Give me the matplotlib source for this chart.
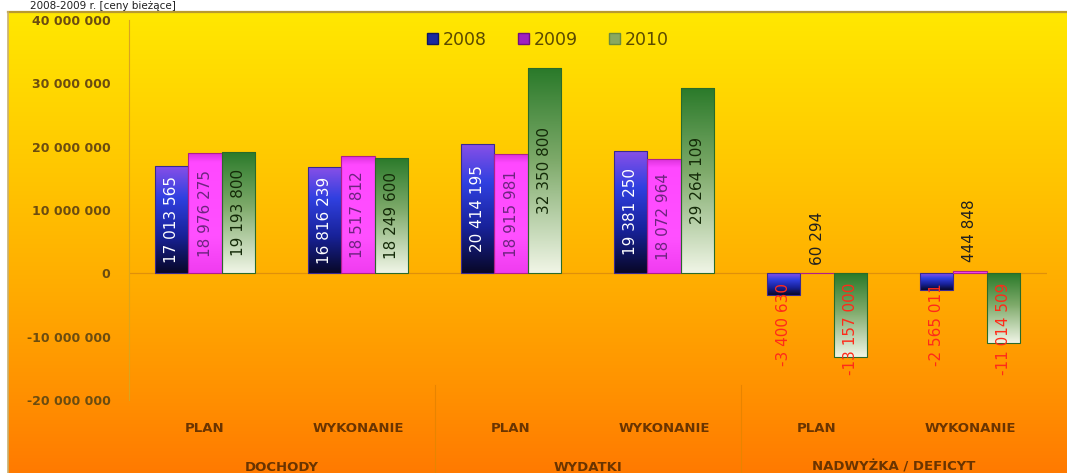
import numpy as np
import matplotlib
matplotlib.use("Agg")
import matplotlib.pyplot as plt
from matplotlib.colors import LinearSegmentedColormap
from matplotlib.patches import Patch
import matplotlib.transforms as mtransforms

# ---------------- data ----------------
categories = ["PLAN", "WYKONANIE", "PLAN", "WYKONANIE", "PLAN", "WYKONANIE"]
groups = ["DOCHODY", "WYDATKI", "NADWYŻKA / DEFICYT"]
series_names = ["2008", "2009", "2010"]
v2008 = [17013565, 16816239, 20414195, 19381250, -3400630, -2565011]
v2009 = [18976275, 18517812, 18915981, 18072964, 60294, 444848]
v2010 = [19193800, 18249600, 32350800, 29264109, -13157000, -11014509]
y_ticks = [-20000000, -10000000, 0, 10000000, 20000000, 30000000, 40000000]
title_text = "2008-2009 r. [ceny bieżące]"

# ---------------- styles ----------------
W, H = 1067, 473
fig = plt.figure(figsize=(W / 100, H / 100), dpi=100)
fig.patch.set_facecolor("white")

# background gradient panel
bg = fig.add_axes([8 / W, 0, 1 - 8 / W, 1 - 12 / H])
bg_cmap = LinearSegmentedColormap.from_list(
    "bg", [(0, "#FFE800"), (0.35, "#FFC600"), (0.6, "#FFAC00"), (0.85, "#FF8E00"), (1, "#FF7A00")])
grad = np.linspace(0, 1, 256).reshape(-1, 1)
bg.imshow(grad, aspect="auto", cmap=bg_cmap, extent=[0, 1, 1, 0], origin="upper")
bg.set_xlim(0, 1)
bg.set_ylim(1, 0)
bg.axis("off")
fig.add_artist(plt.Line2D([8 / W, 1], [1 - 12 / H, 1 - 12 / H], transform=fig.transFigure,
                          color="#B89A30", lw=1.6))
fig.add_artist(plt.Line2D([8 / W, 8 / W], [0, 1 - 12 / H], transform=fig.transFigure,
                          color="#C8B070", lw=1.2))

# title in the thin white strip at the top
fig.text(30 / W, 1 - 1 / H, title_text, fontsize=7.5, color="#202020", va="top", ha="left")

ax_left, ax_right = 128.5 / W, 1046.5 / W
ax_bottom, ax_top = 1 - 400 / H, 1 - 20 / H
ax = fig.add_axes([ax_left, ax_bottom, ax_right - ax_left, ax_top - ax_bottom])
ax.patch.set_alpha(0)

x = np.arange(len(categories))
bw = 0.22
offsets = [-bw, 0, bw]
all_vals = [v2008, v2009, v2010]

grad_stops = [
    [(0, "#8A50E8"), (0.3, "#3040E0"), (0.65, "#18229A"), (1, "#080828")],
    [(0, "#D830D8"), (0.08, "#FF48FF"), (0.7, "#FF50FF"), (1, "#F03CF0")],
    [(0, "#2A7A2A"), (0.45, "#7EAA6A"), (1, "#F0F5E6")],
]
edge_cols = ["#3A2A90", "#B0208A", "#2A6A2A"]
label_cols = ["white", "#6E2480", "#142A08"]

for si, vals in enumerate(all_vals):
    cmap = LinearSegmentedColormap.from_list("s%d" % si, grad_stops[si])
    bars = ax.bar(x + offsets[si], vals, width=bw, facecolor="none",
                  edgecolor=edge_cols[si], linewidth=0.8, zorder=3)
    g = np.linspace(0, 1, 128).reshape(-1, 1)
    for b, v in zip(bars, vals):
        x0 = b.get_x()
        x1 = x0 + b.get_width()
        ylo, yhi = min(0, v), max(0, v)
        im = ax.imshow(g, cmap=cmap, aspect="auto", extent=[x0, x1, ylo, yhi],
                       origin="upper", zorder=2)
        im.set_clip_path(b)
        xc = x0 + b.get_width() / 2
        txt = f"{v:,}".replace(",", " ")
        if v >= 1000000:
            ax.text(xc, v / 2, txt, rotation=90, ha="center", va="center",
                    fontsize=11, color=label_cols[si], zorder=5)
        elif v >= 0:
            ax.annotate(txt, (xc, v), xytext=(0, 6), textcoords="offset points",
                        rotation=90, ha="center", va="bottom", fontsize=11,
                        color="#202020", zorder=5)
        else:
            ax.annotate(txt, (xc, 0), xytext=(0, -7), textcoords="offset points",
                        rotation=90, ha="center", va="top", fontsize=11,
                        color="#FF2A1A", zorder=5)

ax.set_xlim(-0.5, len(categories) - 0.5)
ax.set_ylim(y_ticks[0], y_ticks[-1])
ax.set_yticks(y_ticks)
ax.set_yticklabels([f"{t:,}".replace(",", " ") for t in y_ticks],
                   fontsize=9, fontweight="bold", color="#6B4C10")
ax.tick_params(axis="y", length=0, pad=13)
ax.set_xticks(x)
ax.set_xticklabels(categories, fontsize=9.5, fontweight="bold", color="#6A3400")
ax.tick_params(axis="x", length=0, pad=16)
for s in ["top", "right", "bottom"]:
    ax.spines[s].set_visible(False)
ax.spines["left"].set_color("#D9A520")
ax.spines["left"].set_linewidth(0.8)
ax.axhline(0, color="#E0900A", lw=0.9, zorder=1)

# group labels and separators
tr = mtransforms.blended_transform_factory(ax.transData, fig.transFigure)
for gi, gname in enumerate(groups):
    ax.text(2 * gi + 0.5, 1 - 467 / H, gname, transform=tr, ha="center", va="center",
            fontsize=9.5, fontweight="bold", color="#6A3400", clip_on=False)
for sep in [1.5, 3.5]:
    ax.add_artist(plt.Line2D([sep, sep], [1 - 385 / H, 0], transform=tr,
                             color="#E88400", lw=0.8, clip_on=False))

# legend
handles = [Patch(facecolor="#1A2AA0", edgecolor="#101860"),
           Patch(facecolor="#A020C0", edgecolor="#701080"),
           Patch(facecolor="#8AA860", edgecolor="#6A8A40")]
fig.legend(handles, series_names, loc="center", bbox_to_anchor=(548 / W, 1 - 40 / H),
           ncol=3, frameon=False, handlelength=0.6, handleheight=0.6,
           columnspacing=1.8, handletextpad=0.3, fontsize=12.5, labelcolor="#5A4A00")

fig.savefig("out.png", dpi=100)
